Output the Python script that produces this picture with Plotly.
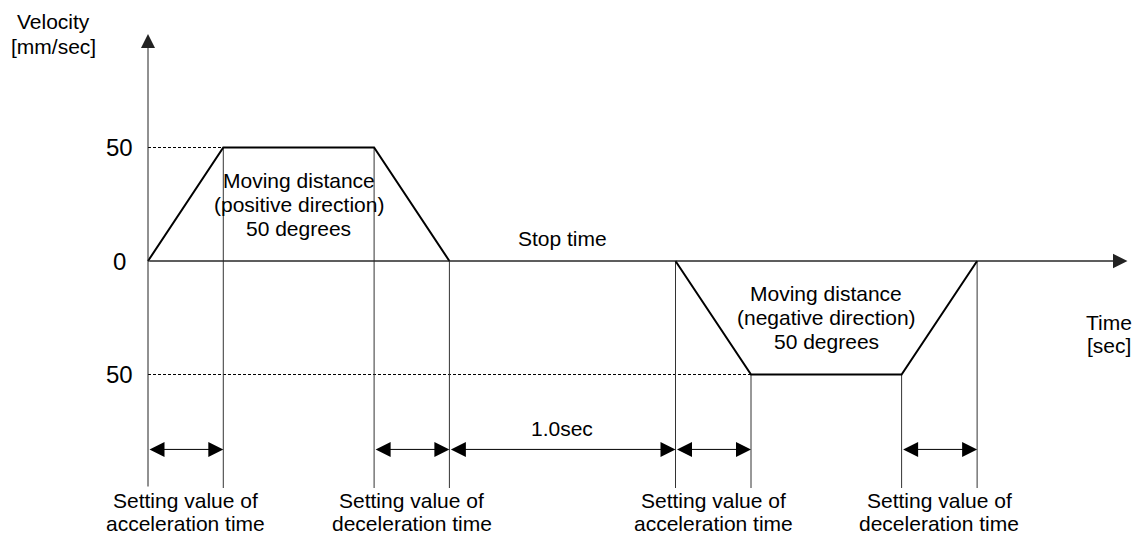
import plotly.graph_objects as go


#%% data (time in sec, velocity in mm/sec)

t_pos = [0, 0.333, 1.0, 1.333]
v_pos = [0, 50, 50, 0]

t_neg = [2.333, 2.667, 3.333, 3.667]
v_neg = [0, -50, -50, 0]

v_ticks = [50, 0, -50]
v_tick_text = ['50', '0', '50']

# dimension arrows below the profile
span_start = [0, 1.0, 1.333, 2.333, 3.333]
span_end = [0.333, 1.333, 2.333, 2.667, 3.667]

setting_labels = [
    ['Setting value of', 'acceleration time'],
    ['Setting value of', 'deceleration time'],
    ['Setting value of', 'acceleration time'],
    ['Setting value of', 'deceleration time'],
]
setting_spans = [0, 1, 3, 4]

move_labels = [
    ['Moving distance', '(positive direction)', '50 degrees'],
    ['Moving distance', '(negative direction)', '50 degrees'],
]

t_max = 4.332
v_top = 100
v_bottom = -100
v_span = -83

FONT = "Arial, 'Liberation Sans', sans-serif"


def add_lines(fig, x, y, lines, size=21, gap=24):
    n = len(lines)
    for i, s in enumerate(lines):
        fig.add_annotation(x=x, y=y, text=s, showarrow=False,
                           xanchor='center', yanchor='middle',
                           yshift=(n - 1) / 2 * gap - i * gap,
                           font=dict(size=size, color='black', family=FONT))


def add_arrow(fig, x0, y0, x1, y1, both=False, size=3.0, color='black'):
    fig.add_annotation(x=x1, y=y1, ax=x0, ay=y0,
                       xref='x', yref='y', axref='x', ayref='y',
                       text='', showarrow=True,
                       arrowhead=2, startarrowhead=2,
                       arrowsize=size, startarrowsize=size,
                       arrowwidth=1, arrowcolor=color,
                       arrowside='end+start' if both else 'end',
                       standoff=0, startstandoff=0)


fig = go.Figure()

# dashed guides to the plateau levels
fig.add_trace(go.Scatter(
    x=[0, t_pos[1], None, 0, t_neg[1]],
    y=[v_pos[1], v_pos[1], None, v_neg[1], v_neg[1]],
    mode='lines', line=dict(color='black', width=1, dash='3px,2px'),
    hoverinfo='skip'))

# vertical guide lines from the profile down
gx, gy = [], []
for t, v in list(zip(t_pos[1:], v_pos[1:])) + list(zip(t_neg, v_neg)):
    gx += [t, t, None]
    gy += [v, v_bottom, None]
fig.add_trace(go.Scatter(x=gx, y=gy, mode='lines',
                         line=dict(color='#333333', width=1), hoverinfo='skip'))

# time axis line (thin)
fig.add_trace(go.Scatter(x=[0, t_max - 0.05], y=[0, 0], mode='lines',
                         line=dict(color='#333333', width=1), hoverinfo='skip'))

# velocity profile
fig.add_trace(go.Scatter(x=t_pos + [None] + t_neg, y=v_pos + [None] + v_neg,
                         mode='lines', line=dict(color='black', width=2),
                         hoverinfo='skip'))

# axes with arrow heads
add_arrow(fig, 0, v_bottom, 0, v_top, size=2.8, color='#222222')
add_arrow(fig, 0, 0, t_max, 0, size=2.9, color='#222222')

# dimension arrows
for a, b in zip(span_start, span_end):
    add_arrow(fig, a, v_span, b, v_span, both=True, size=3.0)

# tick labels
for v, s in zip(v_ticks, v_tick_text):
    add_lines(fig, -0.124, v, [s], size=24)

# texts
add_lines(fig, -0.42, 100, ['Velocity', '[mm/sec]'], gap=25)
add_lines(fig, 4.25, -32, ['Time', '[sec]'], gap=23)
add_lines(fig, (t_pos[0] + t_pos[3]) / 2, 25, move_labels[0])
add_lines(fig, (t_neg[0] + t_neg[3]) / 2, -25, move_labels[1])
add_lines(fig, (t_pos[3] + t_neg[0]) / 2, 10, ['Stop time'])
add_lines(fig, (span_start[2] + span_end[2]) / 2, -74, ['1.0sec'])

for lab, k in zip(setting_labels, setting_spans):
    add_lines(fig, (span_start[k] + span_end[k]) / 2, -110.5, lab, gap=23)

# page body has an 8px margin, so the figure is 8px smaller on each side
fig.update_layout(
    width=1132, height=532,
    margin=dict(l=0, r=0, t=0, b=0),
    paper_bgcolor='white', plot_bgcolor='white',
    showlegend=False,
    font=dict(family=FONT, color='black'),
    xaxis=dict(range=[-0.6192, 4.3874], visible=False, fixedrange=True),
    yaxis=dict(range=[-122.9, 111.45], visible=False, fixedrange=True),
)

fig.write_html("out.html")
